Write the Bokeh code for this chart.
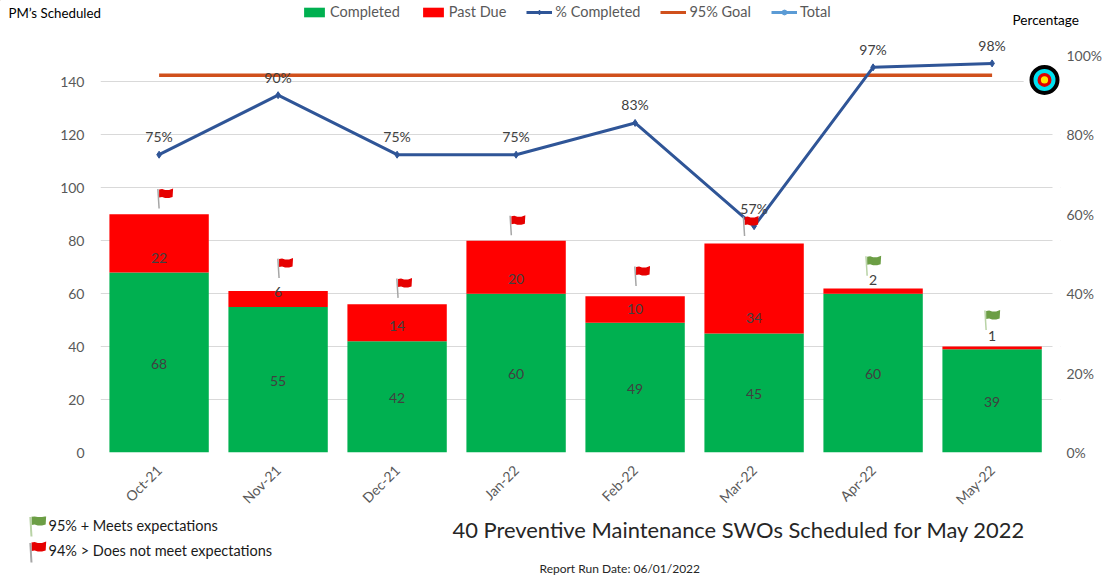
import math
from bokeh.plotting import figure
from bokeh.layouts import column
from bokeh.embed import file_html
from bokeh.resources import INLINE
from bokeh.core.properties import value
from bokeh.models import (ColumnDataSource, Range1d, LinearAxis, FixedTicker, Label,
                          Legend, LegendItem)

months = ["Oct-21", "Nov-21", "Dec-21", "Jan-22", "Feb-22", "Mar-22", "Apr-22", "May-22"]
completed = [68, 55, 42, 60, 49, 45, 60, 39]
past_due = [22, 6, 14, 20, 10, 34, 2, 1]
past_label_y = [73.4, 60.6, 47.8, 65.5, 54.2, 50.8, 65.1, 44.0]
pct_completed = [75, 90, 75, 75, 83, 57, 97, 98]
goal = [95] * 8
flag_x = [0, 1.008, 2.008, 2.96, 4.008, 4.92, 5.95, 6.95]
flag_y = [92.2, 65.9, 58.4, 82.1, 62.9, 81.8, 66.8, 46.3]
flag_ok = [False, False, False, False, False, False, True, True]
left_ticks = [0, 20, 40, 60, 80, 100, 120, 140]
right_ticks = [0, 20, 40, 60, 80, 100]

FONT = "Lato"
GREY = "#595959"
DARK = "#404040"
W = 1108
HEAD_H, MAIN_BOTTOM, TOTAL_H = 36, 516, 578
FRAME_L, FRAME_R, AXIS_END, Y0 = 100, 1060, 1052, 453  # page px
PX_X = 119.0
PX_Y = 398.0 / 150


def dx(px):
    return (px - 158.6) / PX_X


def dy(py):
    return (Y0 - py) / PX_Y


y_top = dy(HEAD_H)
idx = list(range(len(months)))


def pixel_figure(y0, y1):
    """A frameless figure whose data coordinates are page pixels."""
    f = figure(width=W, height=y1 - y0, output_backend="svg", toolbar_location=None,
               x_range=Range1d(0, W), y_range=Range1d(y1, y0), frame_align=False,
               min_border_left=0, min_border_right=0, min_border_top=0, min_border_bottom=0,
               outline_line_color=None, x_axis_location=None, y_axis_location=None)
    f.grid.visible = False
    return f


def note(f, text, px, py, size, color="black"):
    f.add_layout(Label(x=px, y=py, text=text, text_font=FONT, text_font_size=size,
                       text_color=color, text_align="left", text_baseline="middle"))


# ---- main chart
p = figure(width=W, height=MAIN_BOTTOM - HEAD_H, output_backend="svg", toolbar_location=None,
           x_range=Range1d(dx(FRAME_L), dx(FRAME_R)), y_range=Range1d(0, y_top), frame_align=False,
           min_border_left=FRAME_L, min_border_right=W - FRAME_R, min_border_top=0,
           min_border_bottom=MAIN_BOTTOM - Y0, outline_line_color=None)
p.extra_y_ranges = {"pct": Range1d(0, y_top * 100 / 150)}

p.yaxis.ticker = FixedTicker(ticks=left_ticks)
p.xaxis.ticker = FixedTicker(ticks=idx)
p.xaxis.major_label_overrides = {i: m for i, m in enumerate(months)}
p.xaxis.major_label_orientation = math.pi / 4
right = LinearAxis(y_range_name="pct", ticker=FixedTicker(ticks=right_ticks),
                   major_label_overrides={t: f"{t}%" for t in right_ticks})
p.add_layout(right, "right")
for ax, standoff in ((p.yaxis[0], 16), (p.xaxis[0], 15), (right, 6)):
    ax.axis_line_color = None
    ax.major_tick_line_color = None
    ax.minor_tick_line_color = None
    ax.major_tick_out = 0
    ax.major_label_text_font = FONT
    ax.major_label_text_font_size = "14px"
    ax.major_label_text_color = GREY
    ax.major_label_standoff = standoff
p.xgrid.visible = False
p.ygrid.ticker = FixedTicker(ticks=left_ticks)
p.ygrid.grid_line_color = "#D9D9D9"

src = ColumnDataSource(dict(x=idx, completed=completed, past=past_due,
                            mid=[c / 2 for c in completed], past_y=past_label_y,
                            pct=pct_completed, goal=goal,
                            ctext=[str(v) for v in completed], ptext=[str(v) for v in past_due],
                            ltext=[f"{v}%" for v in pct_completed]))
# gridlines stop at the end of the plot area; the frame runs on to hold the target
p.quad(left=[dx(AXIS_END)], right=[dx(FRAME_R)], bottom=[-1], top=[y_top], color="white", line_color=None)
p.vbar_stack(["completed", "past"], x="x", width=0.835, source=src,
             color=["#00B050", "#FF0000"], line_color=None)
p.line("x", "goal", source=src, y_range_name="pct", line_color="#D0501C", line_width=3.5)
p.line("x", "pct", source=src, y_range_name="pct", line_color="#2F5597", line_width=3)
p.scatter("x", "pct", source=src, y_range_name="pct", marker="diamond", size=7,
          fill_color="#2F5597", line_color="#2F5597")

for ycol, tcol, kw in (("mid", "ctext", {"y_offset": 1}), ("past_y", "ptext", {}),
                       ("pct", "ltext", {"y_range_name": "pct", "y_offset": -18})):
    p.text("x", ycol, text=tcol, source=src, text_align="center", text_baseline="middle",
           text_font=value(FONT), text_font_size="14px", text_color=DARK, **kw)

# flags: shape in px relative to the pole's foot, y up
FLAG_SHAPE = [(0, 19), (3, 19.5), (6, 18.5), (10, 18.5), (14, 20), (13.5, 11.5), (10, 10.5), (6, 10.5), (3, 11.5), (0, 11)]
POLE = [(0, 0), (-1.2, 19.5)]
RED, GREEN, RED_POLE, GREEN_POLE = "#E60000", "#6C9E45", "#A6A6A6", "#B9D3A6"
p.patches([[fx + a / PX_X for a, _ in FLAG_SHAPE] for fx in flag_x],
          [[fy + b / PX_Y for _, b in FLAG_SHAPE] for fy in flag_y],
          fill_color=[GREEN if ok else RED for ok in flag_ok], line_color=None)
p.multi_line([[fx + a / PX_X for a, _ in POLE] for fx in flag_x],
             [[fy + b / PX_Y for _, b in POLE] for fy in flag_y],
             line_color=[GREEN_POLE if ok else RED_POLE for ok in flag_ok], line_width=1.5)

# target at the 95% goal's end
tx, ty = dx(1044), dy(79.5)
for r, color in ((21, "white"), (15, "black"), (11, "#00E0F0"), (7, "#E00000"), (3.6, "#FFE600")):
    p.scatter([tx], [ty], marker="circle", size=2 * r, fill_color=color, line_color=None)

# ---- header
head = pixel_figure(0, HEAD_H)
# legend keys only: these points lie outside the visible range
off = ColumnDataSource(dict(x=[-500], y=[-500], b=[-501]))
r_comp = head.vbar("x", 1, "y", "b", source=off, color="#00B050", line_color=None)
r_past = head.vbar("x", 1, "y", "b", source=off, color="#FF0000", line_color=None)
r_pct = [head.line("x", "y", source=off, line_color="#2F5597", line_width=3),
         head.scatter("x", "y", source=off, marker="diamond", size=6, fill_color="#2F5597", line_color="#2F5597")]
r_goal = head.line("x", "y", source=off, line_color="#D0501C", line_width=3)
r_total = [head.line("x", "y", source=off, line_color="#5B9BD5", line_width=3),
           head.scatter("x", "y", source=off, marker="circle", size=7, fill_color="#5B9BD5", line_color="#5B9BD5")]
legend = Legend(items=[LegendItem(label="Completed", renderers=[r_comp]),
                       LegendItem(label="Past Due", renderers=[r_past]),
                       LegendItem(label="% Completed", renderers=r_pct),
                       LegendItem(label="95% Goal", renderers=[r_goal]),
                       LegendItem(label="Total", renderers=r_total)],
                orientation="horizontal", location=(301, 16), background_fill_alpha=0,
                border_line_color=None, margin=0, padding=0, spacing=20,
                glyph_width=26, glyph_height=12, label_standoff=3,
                label_text_font=FONT, label_text_font_size="14.5px", label_text_color=GREY)
head.add_layout(legend, "center")
note(head, "PM’s Scheduled", 8, 12, "13.3px")
note(head, "Percentage", 1012, 19, "13.6px")

# ---- footer
foot = pixel_figure(MAIN_BOTTOM, TOTAL_H)
feet = [(31, 536, GREEN, GREEN_POLE), (31, 562, RED, RED_POLE)]
foot.patches([[fx + a * 1.05 for a, _ in FLAG_SHAPE] for fx, _, _, _ in feet],
             [[fy - b * 1.05 for _, b in FLAG_SHAPE] for _, fy, _, _ in feet],
             fill_color=[c for _, _, c, _ in feet], line_color=None)
foot.multi_line([[fx + a for a, _ in POLE] for fx, _, _, _ in feet],
                [[fy - b for _, b in POLE] for _, fy, _, _ in feet],
                line_color=[c for _, _, _, c in feet], line_width=2)
note(foot, "95% + Meets expectations", 48, 525, "14.5px", "#1a1a1a")
note(foot, "94% > Does not meet expectations", 48, 550, "14.5px", "#1a1a1a")
note(foot, "40 Preventive Maintenance SWOs Scheduled for May 2022", 452, 529, "21.9px", "#262626")
note(foot, "Report Run Date: 06/01/2022", 539, 568, "12px", "#262626")

page = column(head, p, foot, spacing=0)
open("out.html", "w").write(file_html(page, INLINE))
